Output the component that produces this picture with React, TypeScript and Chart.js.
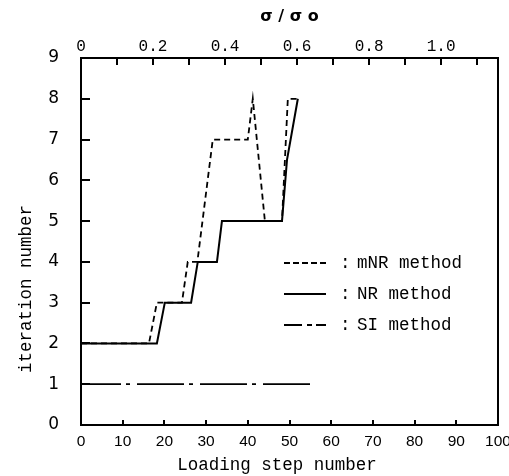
import React, { useEffect, useRef } from "react";
import { Chart, registerables } from "chart.js";

Chart.register(...registerables);

// ---- data ----
const MNR_STEPS = [0, 16.3, 18.2, 24.2, 25.6, 27.9, 31.6, 40, 41.2, 44.1, 48.2, 49.6, 52];
const MNR_ITER = [2, 2, 3, 3, 4, 4, 7, 7, 8, 5, 5, 8, 8];
const NR_STEPS = [0, 18.2, 20.1, 26.4, 28, 32.6, 33.8, 48.2, 49.4, 52];
const NR_ITER = [2, 2, 3, 3, 4, 4, 5, 5, 6.5, 8];
const SI_STEPS = [0, 55.4];
const SI_ITER = [1, 1];

const X_TICKS = [0, 10, 20, 30, 40, 50, 60, 70, 80, 90, 100];
const Y_TICKS = [0, 1, 2, 3, 4, 5, 6, 7, 8, 9];
const TOP_TICKS = [0, 0.2, 0.4, 0.6, 0.8, 1.0];
const TOP_TICK_LABELS = ["0", "0.2", "0.4", "0.6", "0.8", "1.0"];
const TOP_MINOR = [0.1, 0.2, 0.3, 0.4, 0.5, 0.6, 0.7, 0.8, 0.9, 1.0, 1.1];
const TOP_MAX = 1.158;

const LEGEND_LABELS = ["mNR method", "NR method", "SI method"];
const X_TITLE = "Loading step number";
const Y_TITLE = "iteration number";
const TOP_TITLE = "σ / σ o";

const toPoints = (xs: number[], ys: number[]) => xs.map((x, i) => ({ x, y: ys[i] }));

const decorPlugin = {
  id: "decor",
  afterDraw(chart: any) {
    const { ctx, chartArea: a, scales } = chart;
    const sx = scales.x, sy = scales.y, st = scales.xTop;
    ctx.save();
    ctx.strokeStyle = "#000";
    ctx.fillStyle = "#000";
    // frame
    ctx.lineWidth = 2;
    ctx.setLineDash([]);
    ctx.strokeRect(a.left, a.top, a.right - a.left, a.bottom - a.top);
    // inward ticks
    ctx.lineWidth = 2;
    ctx.beginPath();
    Y_TICKS.slice(1, -1).forEach((v) => {
      const y = Math.round(sy.getPixelForValue(v));
      ctx.moveTo(a.left, y);
      ctx.lineTo(a.left + 9, y);
    });
    X_TICKS.slice(1, -1).forEach((v) => {
      const x = Math.round(sx.getPixelForValue(v));
      ctx.moveTo(x, a.bottom);
      ctx.lineTo(x, a.bottom - 5);
    });
    TOP_MINOR.forEach((v) => {
      const x = Math.round(st.getPixelForValue(v));
      ctx.moveTo(x, a.top);
      ctx.lineTo(x, a.top + 7);
    });
    ctx.stroke();

    // titles
    ctx.font = "17.5px 'Liberation Mono'";
    ctx.textAlign = "center";
    ctx.textBaseline = "middle";
    ctx.fillText(X_TITLE, 277, 465);
    ctx.save();
    ctx.translate(26, 289);
    ctx.rotate(-Math.PI / 2);
    ctx.fillText(Y_TITLE, 0, 0);
    ctx.restore();
    ctx.font = "bold 16px 'DejaVu Sans'";
    ctx.fillText(TOP_TITLE, (a.left + a.right) / 2, 17);

    // legend
    const rows = [263, 294, 325];
    const dashes = [[6, 3], [], [18, 5, 5, 4]];
    ctx.lineWidth = 1.8;
    rows.forEach((y, i) => {
      ctx.setLineDash(dashes[i]);
      ctx.beginPath();
      ctx.moveTo(284, y);
      ctx.lineTo(326, y);
      ctx.stroke();
    });
    ctx.setLineDash([]);
    ctx.font = "17.5px 'Liberation Mono'";
    ctx.textAlign = "left";
    rows.forEach((y, i) => {
      ctx.fillText(":", 340, y);
      ctx.fillText(LEGEND_LABELS[i], 357, y);
    });
    ctx.restore();
  },
};

export default function App() {
  const ref = useRef<HTMLCanvasElement>(null);
  useEffect(() => {
    if (!ref.current) return;
    const common = {
      borderColor: "#000",
      borderWidth: 1.8,
      pointRadius: 0,
      tension: 0,
      fill: false,
      xAxisID: "x",
      yAxisID: "y",
    };
    const chart = new Chart(ref.current, {
      type: "line",
      data: {
        datasets: [
          { ...common, label: LEGEND_LABELS[0], data: toPoints(MNR_STEPS, MNR_ITER), borderDash: [6, 4] },
          { ...common, label: LEGEND_LABELS[1], data: toPoints(NR_STEPS, NR_ITER), borderWidth: 2 },
          { ...common, label: LEGEND_LABELS[2], data: toPoints(SI_STEPS, SI_ITER), borderDash: [47, 5, 4, 7], borderDashOffset: 7 },
        ],
      },
      options: {
        responsive: false,
        animation: false,
        events: [],
        layout: { padding: { left: 0, right: 11, top: 0, bottom: 0 } },
        plugins: { legend: { display: false }, tooltip: { enabled: false }, title: { display: false } },
        scales: {
          x: {
            type: "linear",
            position: "bottom",
            min: 0,
            max: 100,
            afterBuildTicks: (s: any) => {
              s.ticks = X_TICKS.map((v) => ({ value: v }));
            },
            afterFit: (s: any) => {
              s.height = 51;
              s.paddingLeft = 0;
              s.paddingRight = 0;
            },
            grid: { display: false, drawTicks: false },
            border: { display: false },
            ticks: {
              padding: 7,
              autoSkip: false,
              maxRotation: 0,
              color: "#000",
              font: { family: "'Liberation Sans'", size: 15.5 },
            },
          },
          xTop: {
            type: "linear",
            position: "top",
            min: 0,
            max: TOP_MAX,
            afterBuildTicks: (s: any) => {
              s.ticks = TOP_TICKS.map((v) => ({ value: v }));
            },
            afterFit: (s: any) => {
              s.height = 58;
              s.paddingLeft = 0;
              s.paddingRight = 0;
            },
            grid: { display: false, drawTicks: false },
            border: { display: false },
            ticks: {
              padding: 2,
              autoSkip: false,
              maxRotation: 0,
              color: "#000",
              font: { family: "'Liberation Mono'", size: 16 },
              callback: (v: any) => {
                const i = TOP_TICKS.findIndex((t) => Math.abs(t - Number(v)) < 1e-6);
                return i >= 0 ? TOP_TICK_LABELS[i] : "";
              },
            },
          },
          y: {
            type: "linear",
            position: "left",
            min: 0,
            max: 9,
            afterBuildTicks: (s: any) => {
              s.ticks = Y_TICKS.map((v) => ({ value: v }));
            },
            afterFit: (s: any) => {
              s.width = 81;
              s.paddingTop = 0;
              s.paddingBottom = 0;
            },
            grid: { display: false, drawTicks: false },
            border: { display: false },
            ticks: {
              padding: 22,
              autoSkip: false,
              color: "#000",
              font: { family: "'DejaVu Sans'", size: 17 },
            },
          },
        },
      },
      plugins: [decorPlugin],
    } as any);
    return () => chart.destroy();
  }, []);
  return (
    <div style={{ position: "absolute", left: 0, top: 0, width: 509, height: 476, background: "#fff" }}>
      <canvas ref={ref} width={509} height={476} style={{ display: "block", width: 509, height: 476 }} />
    </div>
  );
}
